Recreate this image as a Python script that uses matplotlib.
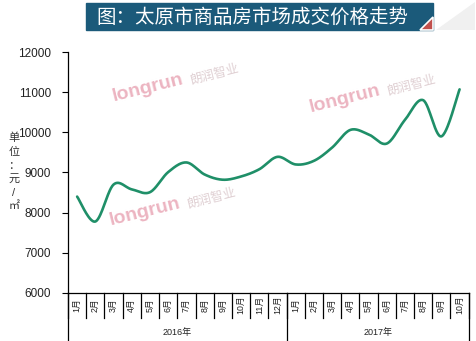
import matplotlib
matplotlib.use("Agg")
import matplotlib.pyplot as plt
from matplotlib.patches import Rectangle, Polygon
import numpy as np

plt.rcParams['font.family'] = ['Liberation Sans', 'Noto Sans CJK SC', 'DejaVu Sans']

# data
months_2016 = [f"{m}月" for m in range(1, 13)]
months_2017 = [f"{m}月" for m in range(1, 11)]
years = ["2016年", "2017年"]
prices = [8400, 7780, 8700, 8580, 8510, 9010, 9250, 8950, 8820, 8900, 9080, 9390,
          9200, 9290, 9620, 10060, 9950, 9720, 10310, 10800, 9900, 11070]
title = "图：太原市商品房市场成交价格走势"
ylabel = "单位：元/㎡"
yticks = [6000, 7000, 8000, 9000, 10000, 11000, 12000]

line_color = "#1f8f68"
bar_color = "#1b5a7a"


def smooth(xs, ys, n=30):
    # Catmull-Rom style bezier like Excel's smoothed line
    xs = np.asarray(xs, float)
    ys = np.asarray(ys, float)
    px = np.concatenate([[xs[0]], xs, [xs[-1]]])
    py = np.concatenate([[ys[0]], ys, [ys[-1]]])
    outx, outy = [], []
    t = np.linspace(0, 1, n)
    for i in range(1, len(px) - 2):
        p0 = np.array([px[i], py[i]])
        p3 = np.array([px[i + 1], py[i + 1]])
        c1 = p0 + (np.array([px[i + 1], py[i + 1]]) - np.array([px[i - 1], py[i - 1]])) / 6
        c2 = p3 - (np.array([px[i + 2], py[i + 2]]) - np.array([px[i], py[i]])) / 6
        b = ((1 - t) ** 3)[:, None] * p0 + (3 * (1 - t) ** 2 * t)[:, None] * c1 \
            + (3 * (1 - t) * t ** 2)[:, None] * c2 + (t ** 3)[:, None] * p3
        outx.extend(b[:, 0])
        outy.extend(b[:, 1])
    return outx, outy


fig = plt.figure(figsize=(4.77, 3.41), dpi=100)
ax = fig.add_axes([0.1426, 0.1408, 0.8400, 0.7067])

labels = months_2016 + months_2017
x = np.arange(len(labels))
sx, sy = smooth(x, prices)
ax.plot(sx, sy, color=line_color, lw=1.9, solid_capstyle="round", zorder=3)

ax.set_xlim(-0.5, len(labels) - 0.5)
ax.set_ylim(6000, 12000)
ax.set_yticks(yticks)
ax.set_yticklabels([str(v) for v in yticks], fontsize=8.5, color="#222222")
ax.tick_params(axis="y", length=4, width=0.8, pad=8)
ax.set_xticks([])
for s in ["top", "right"]:
    ax.spines[s].set_visible(False)
ax.spines["left"].set_linewidth(0.9)
ax.spines["bottom"].set_linewidth(0.9)

# multi-level category axis
trans = ax.get_xaxis_transform()
for b in np.arange(-0.5, len(labels), 1.0):
    ax.plot([b, b], [0, -0.104], transform=trans, color="black", lw=0.9, clip_on=False)
for b in [-0.5, len(months_2016) - 0.5, len(labels) - 0.5]:
    ax.plot([b, b], [0, -0.205], transform=trans, color="black", lw=0.9, clip_on=False)
for i, lab in enumerate(labels):
    ax.text(i, -0.05, lab, transform=trans, rotation=90, ha="center", va="center",
            fontsize=6.3, color="#222222")
ax.text((len(months_2016) - 1) / 2, -0.166, years[0], transform=trans,
        ha="center", va="center", fontsize=6.5, color="#222222")
ax.text(len(months_2016) + (len(months_2017) - 1) / 2, -0.166, years[1], transform=trans,
        ha="center", va="center", fontsize=6.5, color="#222222")

# vertical stacked y label
fig.text(14 / 477, 1 - 172 / 341, "\n".join(ylabel), ha="center", va="center",
         fontsize=8, color="#333333", linespacing=1.45)

# title bar
fig.patches.append(Rectangle((86 / 477, 1 - 30 / 341), 347 / 477, 27 / 341,
                             transform=fig.transFigure, color=bar_color, zorder=0))
fig.patches.append(Polygon([(433 / 477, 1 - 30 / 341), (433 / 477, 1 - 17 / 341),
                            (420 / 477, 1 - 30 / 341)],
                           closed=True, transform=fig.transFigure,
                           facecolor="#c0504d", edgecolor="white", lw=1.2, zorder=1))
fig.patches.append(Polygon([(436 / 477, 1 - 30 / 341), (475 / 477, 1 - 2 / 341),
                            (475 / 477, 1 - 30 / 341)],
                           closed=True, transform=fig.transFigure,
                           facecolor="#f0f0f0", edgecolor="none", zorder=0))
fig.text(252 / 477, 1 - 17 / 341, title, ha="center", va="center",
         fontsize=14, color="white", family=["Noto Sans CJK SC", "DejaVu Sans"])

# watermarks
for (wx, wy) in [(148, 88), (345, 99), (145, 212)]:
    fig.text(wx / 477, 1 - wy / 341, "longrun", ha="center", va="center",
             fontsize=14, fontweight="bold", color="#e9a7b6", alpha=0.85, rotation=14)
    fig.text((wx + 67) / 477, 1 - (wy - 14) / 341, "朗润智业", ha="center", va="center",
             fontsize=9, color="#d8c4c8", alpha=0.8, rotation=14,
             family=["Noto Sans CJK SC", "DejaVu Sans"])

fig.savefig("out.png", dpi=100)
